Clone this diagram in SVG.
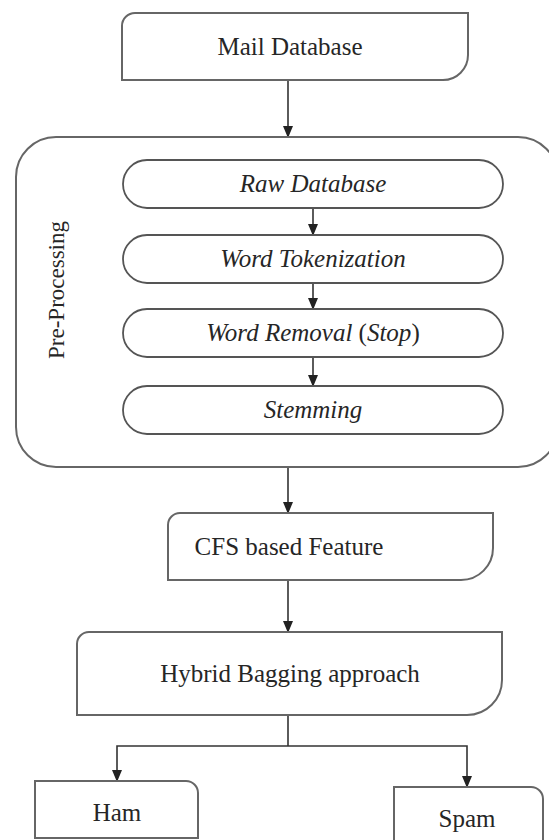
<svg xmlns="http://www.w3.org/2000/svg" width="549" height="840" viewBox="0 0 549 840">
<defs>
<marker id="ah" markerWidth="12" markerHeight="12" viewBox="0 0 12 12" refX="11" refY="6" orient="auto" markerUnits="userSpaceOnUse">
<path d="M0,1 L12,6 L0,11 Z" fill="#222"/>
</marker>
<style>
.box{fill:#fff;stroke:#666;stroke-width:2}
.cont{fill:none;stroke:#666;stroke-width:2}
.st{fill:#fff;stroke:#555;stroke-width:1.8}
.t{font-family:"Liberation Serif","Times New Roman",serif;font-size:25px;fill:#262626;text-anchor:middle}
.i{font-style:italic}
.n{font-style:normal}
.c{fill:none;stroke:#333;stroke-width:1.6}
.a{marker-end:url(#ah)}
</style>
</defs>
<rect width="549" height="840" fill="#fff"/>
<g id="connectors">
<line class="c a" x1="288" y1="80" x2="288" y2="137"/>
<line class="c a" x1="313" y1="208" x2="313" y2="235"/>
<line class="c a" x1="313" y1="283" x2="313" y2="309"/>
<line class="c a" x1="313" y1="357" x2="313" y2="386"/>
<line class="c a" x1="288" y1="467" x2="288" y2="513"/>
<line class="c a" x1="288" y1="580" x2="288" y2="632"/>
<polyline class="c" points="288,715 288,746"/>
<polyline class="c a" points="288,746 117,746 117,781"/>
<polyline class="c a" points="288,746 467,746 467,787"/>
</g>
<g id="mail-database">
<path class="box" d="M122,80 L122,26 A13,13 0 0 1 135,13 L468,13 L468,55 A25,25 0 0 1 443,80 Z"/>
<text class="t" x="290" y="55">Mail Database</text>
</g>
<g id="pre-processing">
<rect class="cont" x="16" y="137" width="542" height="330" rx="40" ry="40"/>
<text class="t" transform="translate(64,290) rotate(-90)" style="font-size:23px">Pre-Processing</text>
</g>
<g id="raw-database">
<rect class="st" x="123" y="160" width="380" height="48" rx="24"/>
<text class="t i" x="313" y="192">Raw Database</text>
</g>
<g id="word-tokenization">
<rect class="st" x="123" y="235" width="380" height="48" rx="24"/>
<text class="t i" x="313" y="267">Word Tokenization</text>
</g>
<g id="word-removal">
<rect class="st" x="123" y="309" width="380" height="48" rx="24"/>
<text class="t i" x="313" y="341">Word Removal <tspan class="n">(</tspan>Stop<tspan class="n">)</tspan></text>
</g>
<g id="stemming">
<rect class="st" x="123" y="386" width="380" height="48" rx="24"/>
<text class="t i" x="313" y="418">Stemming</text>
</g>
<g id="cfs">
<path class="box" d="M168,580 L168,525 A12,12 0 0 1 180,513 L493,513 L493,548 A32,32 0 0 1 461,580 Z"/>
<text class="t" x="289" y="555">CFS based Feature</text>
</g>
<g id="hybrid">
<path class="box" d="M77,715 L77,644 A12,12 0 0 1 89,632 L502,632 L502,680 A35,35 0 0 1 467,715 Z"/>
<text class="t" x="290" y="682">Hybrid Bagging approach</text>
</g>
<g id="ham">
<path class="box" d="M35,838 L35,781 L186,781 A12,12 0 0 1 198,793 L198,838 Z"/>
<text class="t" x="117" y="821">Ham</text>
</g>
<g id="spam">
<path class="box" d="M394,846 L394,787 L531,787 A12,12 0 0 1 543,799 L543,846"/>
<text class="t" x="467" y="827">Spam</text>
</g>
</svg>
